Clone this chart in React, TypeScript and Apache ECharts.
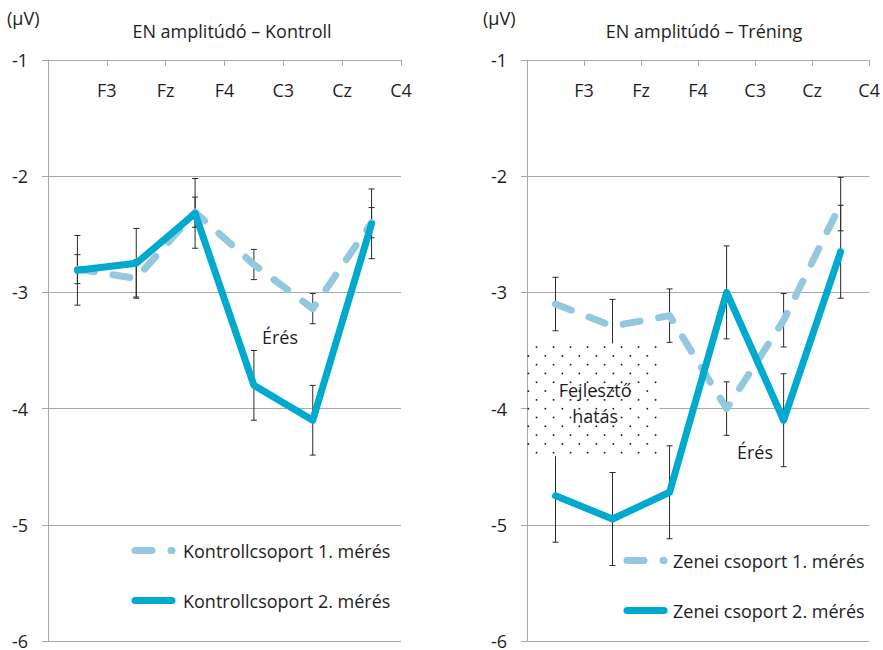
import React, { useEffect, useRef } from "react";
import * as echarts from "echarts";

// ---------- data ----------
const categories = ["F3", "Fz", "F4", "C3", "Cz", "C4"];
const positionTickLabels = ["", "F3", "Fz", "F4", "C3", "Cz", "C4"];
const yTicks = [-6, -5, -4, -3, -2, -1];

// Kontroll
const kontroll1 = [-2.8, -2.88, -2.31, -2.76, -3.14, -2.4];
const kontroll1Err = [0.125, 0.16, 0.13, 0.13, 0.13, 0.13];
const kontroll2 = [-2.81, -2.75, -2.32, -3.8, -4.1, -2.41];
const kontroll2Err = [0.3, 0.3, 0.3, 0.3, 0.3, 0.3];

// Tréning (Zenei csoport)
const zenei1 = [-3.1, -3.29, -3.2, -4.0, -3.24, -2.24];
const zenei1Err = [0.23, 0.23, 0.23, 0.23, 0.23, 0.23];
const zenei2 = [-4.75, -4.95, -4.72, -3.0, -4.1, -2.65];
const zenei2Err = [0.4, 0.4, 0.4, 0.4, 0.4, 0.4];

// dotted "Fejlesztő hatás" region: [xStart, xEnd, yTop, yBottom] (position-axis units, µV)
const devEffectBox = [0, 2.32, -3.44, -4.41];

// ---------- styles ----------
const FONT = "'Open Sans', 'Noto Sans', sans-serif";
const TXT = "#1e1e1e";
const GRID = "#a8a8a8";
const C_LIGHT = "#93c8df";
const C_DARK = "#00a9ce";

const errData = (vals: number[], errs: number[]) =>
  vals.map((v, i) => [i, v - errs[i], v + errs[i]]);

const errorRender = (params: any, api: any) => {
  const x = api.value(0);
  const lo = api.coord([x, api.value(1)]);
  const hi = api.coord([x, api.value(2)]);
  const cw = 3;
  const st = { stroke: "#2a2a2a", lineWidth: 1 };
  return {
    type: "group",
    children: [
      { type: "line", shape: { x1: lo[0], y1: lo[1], x2: hi[0], y2: hi[1] }, style: st },
      { type: "line", shape: { x1: lo[0] - cw, y1: lo[1], x2: lo[0] + cw, y2: lo[1] }, style: st },
      { type: "line", shape: { x1: hi[0] - cw, y1: hi[1], x2: hi[0] + cw, y2: hi[1] }, style: st },
    ],
  };
};

const boxRender = (params: any, api: any) => {
  const p0 = api.coord([api.value(0), api.value(2)]);
  const p1 = api.coord([api.value(1), api.value(3)]);
  const children: any[] = [
    {
      type: "rect",
      shape: { x: p0[0] + 1, y: p0[1], width: p1[0] - p0[0] - 1, height: p1[1] - p0[1] },
      style: { fill: "#ffffff" },
    },
  ];
  let r = 0;
  for (let y = p0[1] + 3.5; y < p1[1] - 1; y += 8.8, r++) {
    const off = r % 2 === 0 ? 9.5 : 1.3;
    for (let x = p0[0] + off; x < p1[0] - 1; x += 17) {
      children.push({
        type: "rect",
        shape: { x: x - 0.75, y: y - 0.75, width: 1.6, height: 1.6 },
        style: { fill: "#111" },
      });
    }
  }
  children.push({
    type: "text",
    style: {
      text: "Fejlesztő\nhatás",
      x: (p0[0] + p1[0]) / 2 + 2,
      y: (p0[1] + p1[1]) / 2 + 3,
      align: "center",
      verticalAlign: "middle",
      fontSize: 18,
      lineHeight: 26,
      fontFamily: FONT,
      fill: TXT,
    },
  });
  return { type: "group", children };
};

function makeAxes(gridIndex: number) {
  const catAxis = {
    type: "category",
    gridIndex,
    position: "top",
    data: categories,
    boundaryGap: true,
    axisLine: { show: true, lineStyle: { color: GRID, width: 1 } },
    axisTick: { show: true, inside: true, length: 6, interval: 0, lineStyle: { color: GRID } },
    axisLabel: { show: false },
    splitLine: { show: false },
  };
  const posAxis = {
    type: "value",
    gridIndex,
    position: "top",
    min: 0,
    max: 6,
    interval: 1,
    axisLine: { show: false },
    axisTick: { show: false },
    splitLine: { show: false },
    axisLabel: {
      inside: true,
      margin: 21,
      showMinLabel: true,
      showMaxLabel: true,
      fontSize: 18,
      fontFamily: FONT,
      color: TXT,
      formatter: (v: number) => positionTickLabels[Math.round(v)] ?? "",
    },
  };
  const yAxis = {
    type: "value",
    gridIndex,
    min: yTicks[0],
    max: yTicks[yTicks.length - 1],
    interval: 1,
    axisLine: { show: true, lineStyle: { color: GRID, width: 1 } },
    axisTick: { show: true, length: 6, lineStyle: { color: GRID } },
    splitLine: { show: true, lineStyle: { color: GRID, width: 1 } },
    axisLabel: { margin: 20, fontSize: 18, lineHeight: 14, fontFamily: FONT, color: TXT },
  };
  return { catAxis, posAxis, yAxis };
}

function lineSeries(name: string, data: number[], xAxisIndex: number, yAxisIndex: number, dashed: boolean) {
  return {
    name,
    type: "line",
    xAxisIndex,
    yAxisIndex,
    data,
    symbol: "none",
    silent: true,
    z: dashed ? 3 : 4,
    lineStyle: {
      color: dashed ? C_LIGHT : C_DARK,
      width: 7,
      type: dashed ? [17, 19] : "solid",
      cap: "round",
      join: "round",
    },
    itemStyle: { color: dashed ? C_LIGHT : C_DARK },
  };
}

function errSeries(data: number[][], xAxisIndex: number, yAxisIndex: number) {
  return {
    type: "custom",
    xAxisIndex,
    yAxisIndex,
    data,
    silent: true,
    z: 2,
    renderItem: errorRender,
  };
}

export default function App() {
  const ref = useRef<HTMLDivElement>(null);
  useEffect(() => {
    if (!ref.current) return;
    const chart = echarts.init(ref.current, undefined, { renderer: "svg" });
    const L = makeAxes(0);
    const R = makeAxes(1);
    const legendCommon = {
      orient: "vertical",
      padding: 0,
      itemWidth: 37,
      itemHeight: 14,
      itemGap: 32,
      selectedMode: false,
      itemStyle: { opacity: 0, borderWidth: 0 },
      lineStyle: { width: 7, cap: "round", opacity: 1 },
      textStyle: { fontSize: 18, fontFamily: FONT, color: TXT },
    };
    chart.setOption({
      animation: false,
      backgroundColor: "#ffffff",
      textStyle: { fontFamily: FONT },
      grid: [
        { left: 48, top: 60, width: 353, height: 582, containLabel: false },
        { left: 527, top: 60, width: 344, height: 582, containLabel: false },
      ],
      xAxis: [L.catAxis, L.posAxis, R.catAxis, R.posAxis],
      yAxis: [L.yAxis, R.yAxis],
      legend: [
        {
          ...legendCommon,
          left: 131.5,
          top: 541.5,
          data: ["Kontrollcsoport 1. mérés", "Kontrollcsoport 2. mérés"],
          textStyle: { ...legendCommon.textStyle, padding: [0, 0, 0, 6] },
        },
        {
          ...legendCommon,
          left: 623.5,
          top: 551.5,
          data: ["Zenei csoport 1. mérés", "Zenei csoport 2. mérés"],
          textStyle: { ...legendCommon.textStyle, padding: [0, 0, 0, 4] },
        },
      ],
      graphic: [
        { type: "text", left: 7, top: 9, style: { text: "(µV)", fontSize: 18, fontFamily: FONT, fill: TXT } },
        { type: "text", left: 483, top: 9, style: { text: "(µV)", fontSize: 18, fontFamily: FONT, fill: TXT } },
        {
          type: "text",
          x: 232,
          y: 31,
          style: { text: "EN amplitúdó – Kontroll", align: "center", verticalAlign: "middle", fontSize: 18, fontFamily: FONT, fill: TXT },
        },
        {
          type: "text",
          x: 704,
          y: 31,
          style: { text: "EN amplitúdó – Tréning", align: "center", verticalAlign: "middle", fontSize: 18, fontFamily: FONT, fill: TXT },
        },
        {
          type: "text",
          x: 280,
          y: 337,
          z: 10,
          style: { text: "Érés", align: "center", verticalAlign: "middle", fontSize: 18, fontFamily: FONT, fill: TXT },
        },
        {
          type: "text",
          x: 755,
          y: 452,
          z: 10,
          style: { text: "Érés", align: "center", verticalAlign: "middle", fontSize: 18, fontFamily: FONT, fill: TXT },
        },
      ],
      series: [
        errSeries(errData(kontroll1, kontroll1Err), 0, 0),
        errSeries(errData(kontroll2, kontroll2Err), 0, 0),
        lineSeries("Kontrollcsoport 1. mérés", kontroll1, 0, 0, true),
        lineSeries("Kontrollcsoport 2. mérés", kontroll2, 0, 0, false),
        errSeries(errData(zenei1, zenei1Err), 2, 1),
        errSeries(errData(zenei2, zenei2Err), 2, 1),
        lineSeries("Zenei csoport 1. mérés", zenei1, 2, 1, true),
        lineSeries("Zenei csoport 2. mérés", zenei2, 2, 1, false),
        {
          type: "custom",
          xAxisIndex: 3,
          yAxisIndex: 1,
          data: [devEffectBox],
          silent: true,
          z: 8,
          clip: false,
          renderItem: boxRender,
        },
      ],
    });
    return () => chart.dispose();
  }, []);
  return (
    <div
      ref={ref}
      style={{ position: "fixed", left: 0, top: 0, width: 883, height: 650, background: "#fff" }}
    />
  );
}
